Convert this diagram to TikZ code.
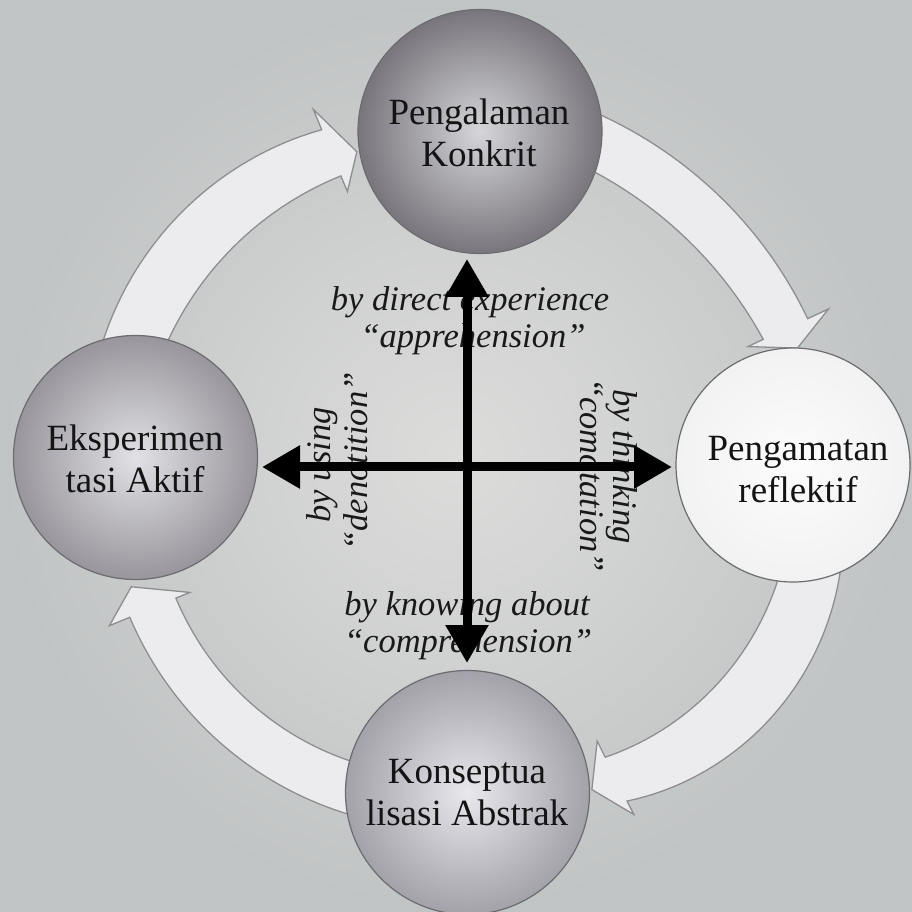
\documentclass[tikz,border=0pt]{standalone}
\usepackage{fontspec}
\setmainfont{Liberation Serif}
\usetikzlibrary{arrows.meta}
\definecolor{bgin}{HTML}{DCDCDB}
\definecolor{bgout}{HTML}{C1C4C4}
\definecolor{bandfill}{HTML}{ECEBEE}
\definecolor{banddraw}{HTML}{8E8E90}
\definecolor{rim}{HTML}{6C6C70}
\definecolor{topin}{HTML}{D6D5DA}
\definecolor{topout}{HTML}{78767C}
\definecolor{sidein}{HTML}{E2E1E6}
\definecolor{sideout}{HTML}{98969C}
\definecolor{botin}{HTML}{E9E8ED}
\definecolor{botout}{HTML}{A3A1A9}
\definecolor{whitein}{HTML}{FCFCFC}
\definecolor{whiteout}{HTML}{F2F2F3}
\begin{document}
\begin{tikzpicture}[x=1pt,y=1pt,
  declare function={qr(\u,\p,\q,\r)=2*\p*(\u-0.5)*(\u-1)-4*\q*\u*(\u-1)+2*\r*\u*(\u-0.5);},
  ball/.style={circle, draw=rim, line width=1.2pt, inner sep=0pt},
  balltext/.style={align=center, inner sep=0pt, text=black!92, font=\fontsize{37}{42}\selectfont},
  band/.style={fill=bandfill, draw=banddraw, line width=1.3pt, line join=miter},
  lbl/.style={font=\fontsize{34.5}{40}\selectfont\itshape, text=black!90, inner sep=0pt, anchor=base},
  crossarrow/.style={line width=9pt, {Triangle[length=38pt,width=41pt]}-{Triangle[length=38pt,width=41pt]}}
]
\useasboundingbox (0,0) rectangle (912,911);
\shade[inner color=bgin, outer color=bgout] (0,0) rectangle (912,911);

% ring of curved arrows
\begin{scope}[shift={(466,433)}]
\foreach \aa/\ab/\at/\oa/\om/\ob/\ia/\im/\ib/\bo/\bi/\rt in {
 172/112.5/108.5/382/390/377/328/328/327/399/310/344,
 78/25/21.4/392/380/377/339/326/328/400/311/356,
 -8/-63.5/-68/381/389/361/327/326/312/376/294/336,
 255/202.5/198/355/361/364/303/311/314/386/299/352}
{
 \draw[band]
   plot[domain=\aa:\ab, samples=40, variable=\t] (\t:{qr((\t-(\aa))/((\ab)-(\aa)),\oa,\om,\ob)})
   -- (\ab:\bo) -- (\at:\rt) -- (\ab:\bi) -- (\ab:\ib)
   -- plot[domain=\ab:\aa, samples=40, variable=\t] (\t:{qr((\t-(\aa))/((\ab)-(\aa)),\ia,\im,\ib)})
   -- cycle;
}
\end{scope}

% circles
\node[ball, minimum size=244pt, inner color=topin, outer color=topout] (ctop) at (480,779.5) {};
\node[ball, minimum size=234pt, inner color=whitein, outer color=whiteout] (cright) at (793,446) {};
\node[ball, minimum size=244pt, inner color=botin, outer color=botout] (cbot) at (467.5,118.5) {};
\node[ball, minimum size=244pt, inner color=sidein, outer color=sideout] (cleft) at (135.5,453.5) {};

\node[balltext] (ttop) at (479,778) {Pengalaman\\Konkrit};
\node[balltext] (tright) at (798,441.5) {Pengamatan\\reflektif};
\node[balltext] (tbot) at (467,118.5) {Konseptua\\lisasi Abstrak};
\node[balltext] (tleft) at (135,452.5) {Eksperimen\\tasi Aktif};

% labels
\node[lbl] (l1a) at (470,600) {by direct experience};
\node[lbl] (l1b) at (473,563) {“apprehension”};
\node[lbl] (l2a) at (467,296) {by knowing about};
\node[lbl] (l2b) at (468,259) {“comprehension”};
\node[lbl, rotate=90] (l3a) at (330,446) {by using};
\node[lbl, rotate=90] (l3b) at (367,449.5) {“denotition”};
\node[lbl, rotate=-90] (l4a) at (613,444.5) {by thinking};
\node[lbl, rotate=-90] (l4b) at (580,436) {“comotation”};

% cross arrows
\coordinate (vtop) at (467,652);
\coordinate (vbot) at (467,248);
\coordinate (hleft) at (262,444);
\coordinate (hright) at (672,444);
\draw[crossarrow] (vbot) -- (vtop);
\draw[crossarrow] (hleft) -- (hright);
\end{tikzpicture}
\end{document}
